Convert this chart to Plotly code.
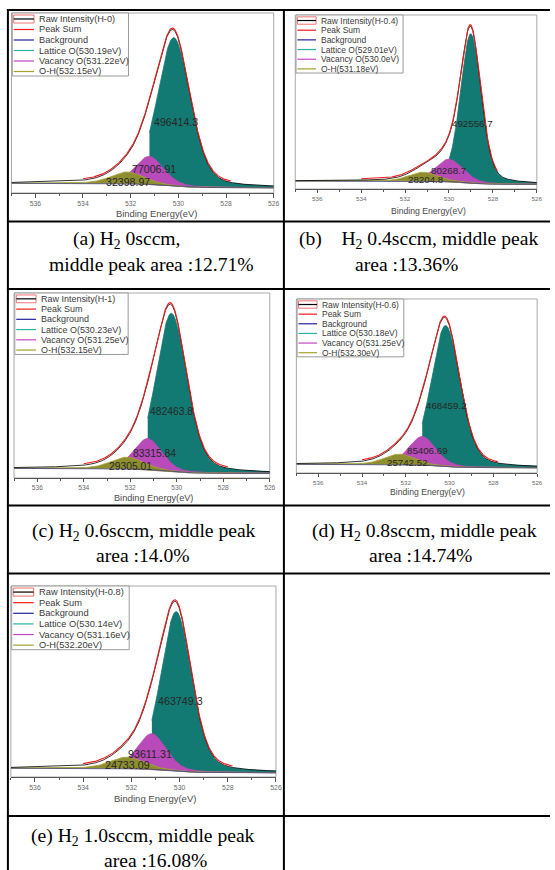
import numpy as np
import plotly.graph_objects as go

W, H = 555, 870

# ---------------- data ----------------
samples = ["H-0", "H-0.4", "H-1", "H-0.6", "H-0.8"]
lattice_center = [530.19, 529.01, 530.23, 530.18, 530.14]
vacancy_center = [531.22, 530.00, 531.25, 531.25, 531.16]
oh_center = [532.15, 531.18, 532.15, 532.30, 532.20]
lattice_center_txt = ["530.19", "529.01", "530.23", "530.18", "530.14"]
vacancy_center_txt = ["531.22", "530.0", "531.25", "531.25", "531.16"]
oh_center_txt = ["532.15", "531.18", "532.15", "532.30", "532.20"]
lattice_area = ["496414.3", "492556.7", "482463.8", "468459.2", "463749.3"]
vacancy_area = ["77006.91", "80268.7", "83315.84", "85406.69", "93611.31"]
oh_area = ["32398.97", "28204.8", "29305.01", "25742.52", "24733.09"]
# peak heights (relative intensity, % of panel height) and widths (FWHM, eV)
lattice_height = [82.4, 85.8, 85.4, 81.0, 83.4]
lattice_fwhm = [1.62, 1.10, 1.56, 1.56, 1.50]
vacancy_height = [15.5, 12.9, 16.7, 16.4, 18.6]
vacancy_fwhm = [1.40, 1.50, 1.40, 1.45, 1.40]
oh_height = [6.5, 5.2, 6.3, 6.0, 6.0]
oh_fwhm = [1.60, 1.50, 1.60, 1.60, 1.60]
bg_low = [2.9, 2.7, 2.5, 3.0, 2.25]    # background at 526 eV
bg_high = [5.4, 4.6, 5.2, 5.0, 4.6]    # background at 537 eV
x_ticks = [536, 534, 532, 530, 528, 526]
x_minor = [537, 535, 533, 531, 529, 527]

caption_line1 = ["(a) H<sub>2</sub> 0sccm,",
                 "(b)\u00a0\u00a0\u00a0\u00a0H<sub>2</sub> 0.4sccm, middle peak",
                 "(c) H<sub>2</sub> 0.6sccm, middle peak",
                 "(d) H<sub>2</sub> 0.8sccm, middle peak",
                 "(e) H<sub>2</sub> 1.0sccm, middle peak"]
caption_line2 = ["middle peak area :12.71%", "area :13.36%", "area :14.0%",
                 "area :14.74%", "area :16.08%"]

# ---------------- layout geometry (pixels) ----------------
frames = [(11.6, 13, 276.7, 193), (298.5, 15, 542.7, 189), (14.2, 293, 272.7, 478),
          (299.6, 299, 543, 473), (11.0, 586, 279, 777)]
title_pos = [(158, 213.3), (432.8, 210.7), (155, 498.3), (431.8, 492.3), (156.3, 798.3)]
lab_lat = [(530.08, 39.3), (528.94, 37.4), (530.22, 36.2), (530.14, 38.7), (529.98, 39.9)]
lab_vac = [(531.04, 13.2), (530.01, 10.9), (530.94, 13.4), (531.02, 12.8), (531.23, 12.0)]
lab_oh = [(532.10, 5.9), (531.05, 5.2), (531.97, 6.1), (531.91, 5.9), (532.15, 6.1)]
cap1_pos = [(127.9, 240.4), (423.3, 240.4), (145.5, 531.5), (428.9, 531.5), (145, 836.8)]
cap2_pos = [(153.1, 264.4), (411.2, 264.4), (144.8, 555.5), (425.4, 555.5), (157.7, 860)]

C_RAW, C_SUM, C_BG = "#000000", "#ee1c1c", "#22229a"
C_LAT, C_VAC, C_OH = "#2bb3a8", "#c445c4", "#a3a32c"
F_LAT, F_VAC, F_OH = "#127a72", "#b94ab9", "#8e8e30"
SANS = "Liberation Sans, Arial, sans-serif"
SERIF = "Liberation Serif, Times New Roman, serif"


def px(x):
    return x / W


def py(y):
    return 1 - y / H


def gl(E, c, h, w, m=0.3):
    d = (E - c) / w
    return h * ((1 - m) * np.exp(-4 * np.log(2) * d * d) + m / (1 + 4 * d * d))


E = np.linspace(537, 526, 881)
fig = go.Figure()
shapes, annots = [], []

for i in range(5):
    sfx = "" if i == 0 else str(i + 1)
    xa, ya = "x" + sfx, "y" + sfx
    L, T, R, B = frames[i]
    s = (R - L) / 11 / 24.1

    lat = gl(E, lattice_center[i], lattice_height[i], lattice_fwhm[i])
    vac = gl(E, vacancy_center[i], vacancy_height[i], vacancy_fwhm[i])
    oh = gl(E, oh_center[i], oh_height[i], oh_fwhm[i])
    peaks = lat + vac + oh
    cum = np.cumsum(peaks[::-1])[::-1]
    bg = bg_low[i] + (bg_high[i] - bg_low[i]) * cum / cum[0]
    total = bg + peaks

    def poly(comp, mask, fc, lc):
        xs = np.concatenate([E[mask], E[mask][::-1]])
        ys = np.concatenate([(bg + comp)[mask], bg[mask][::-1]])
        fig.add_trace(go.Scatter(x=xs, y=ys, mode="lines", fill="toself", fillcolor=fc,
                                 line=dict(color=lc, width=0.8), xaxis=xa, yaxis=ya,
                                 showlegend=False, hoverinfo="skip"))

    poly(lat, E <= vacancy_center[i], F_LAT, F_LAT)
    poly(vac, E <= oh_center[i], F_VAC, F_VAC)
    poly(oh, E <= 537, F_OH, "#a6a63a")
    fig.add_trace(go.Scatter(x=E, y=bg, mode="lines", line=dict(color=C_BG, width=0.6),
                             xaxis=xa, yaxis=ya, showlegend=False, hoverinfo="skip"))
    fig.add_trace(go.Scatter(x=E, y=total, mode="lines", line=dict(color=C_RAW, width=0.8),
                             xaxis=xa, yaxis=ya, showlegend=False, hoverinfo="skip"))
    m = (E <= 534.0) & (E >= 527.8)
    fig.add_trace(go.Scatter(x=E[m], y=total[m] + 0.8, mode="lines",
                             line=dict(color=C_SUM, width=1.1),
                             xaxis=xa, yaxis=ya, showlegend=False, hoverinfo="skip"))

    fig.update_layout(**{
        ("xaxis" + sfx): dict(domain=[px(L), px(R)], range=[537, 526], anchor=ya,
                              showline=True, linecolor="#555", linewidth=1,
                              ticks="outside", ticklen=3.5 * s, tickwidth=1, tickcolor="#555",
                              tickvals=x_ticks, ticktext=[str(t) for t in x_ticks],
                              tickfont=dict(family=SANS, size=6.8 * s, color="#6a6a6a"),
                              minor=dict(ticks="outside", ticklen=2 * s, tickvals=x_minor,
                                         tickcolor="#555", tickwidth=1),
                              showgrid=False, zeroline=False, fixedrange=True),
        ("yaxis" + sfx): dict(domain=[py(B), py(T)], range=[0, 100], anchor=xa,
                              showline=False, showticklabels=False, ticks="",
                              showgrid=False, zeroline=False, fixedrange=True),
    })

    # frame
    shapes.append(dict(type="rect", xref=xa + " domain", yref=ya + " domain", x0=0, x1=1, y0=0, y1=1,
                       line=dict(color="#a8a8a8", width=1), layer="below"))

    # legend
    lx0, ly0 = L + 0.8 * s, T
    lw, lh = 117.5 * s, 63 * s
    shapes.append(dict(type="rect", xref="paper", yref="paper", x0=px(lx0), x1=px(lx0 + lw),
                       y0=py(ly0), y1=py(ly0 + lh), line=dict(color="#9a9a9a", width=1),
                       fillcolor="white", layer="above"))
    names = ["Raw Intensity(%s)" % samples[i], "Peak Sum", "Background",
             "Lattice O(%seV)" % lattice_center_txt[i], "Vacancy O(%seV)" % vacancy_center_txt[i],
             "O-H(%seV)" % oh_center_txt[i]]
    cols = [C_RAW, C_SUM, C_BG, C_LAT, C_VAC, C_OH]
    for k in range(6):
        yc = ly0 + (6 + 10.5 * k) * s
        if k == 0:
            shapes.append(dict(type="rect", xref="paper", yref="paper", x0=px(lx0 + 1.5 * s),
                               x1=px(lx0 + 22 * s), y0=py(yc - 4 * s), y1=py(yc + 4 * s),
                               line=dict(color="#f07070", width=1), layer="above"))
        shapes.append(dict(type="line", xref="paper", yref="paper", x0=px(lx0 + 1.5 * s),
                           x1=px(lx0 + 22 * s), y0=py(yc), y1=py(yc),
                           line=dict(color=cols[k], width=1.2), layer="above"))
        annots.append(dict(xref="paper", yref="paper", x=px(lx0 + 25 * s), y=py(yc),
                           xanchor="left", yanchor="middle", text=names[k], showarrow=False,
                           font=dict(family=SANS, size=9.2 * s, color="#3a3a3a")))

    # area labels
    for (ex, ey), txt in zip([lab_lat[i], lab_vac[i], lab_oh[i]],
                             [lattice_area[i], vacancy_area[i], oh_area[i]]):
        annots.append(dict(xref=xa, yref=ya, x=ex, y=ey, text=txt, showarrow=False,
                           xanchor="center", yanchor="middle",
                           font=dict(family=SANS, size=10.6 * s, color="#262626")))
    # axis title
    tx, ty = title_pos[i]
    annots.append(dict(xref="paper", yref="paper", x=px(tx), y=py(ty), text="Binding Energy(eV)",
                       showarrow=False, xanchor="center", yanchor="middle",
                       font=dict(family=SANS, size=9.4 * s, color="#4a4a4a")))
    # captions
    for (cx, cy), txt in zip([cap1_pos[i], cap2_pos[i]], [caption_line1[i], caption_line2[i]]):
        annots.append(dict(xref="paper", yref="paper", x=px(cx), y=py(cy), text=txt,
                           showarrow=False, xanchor="center", yanchor="middle",
                           font=dict(family=SERIF, size=19.6, color="#000")))

# table grid lines
for yy in [10, 221.5, 289, 505.5, 573.5, 816]:
    shapes.append(dict(type="line", xref="paper", yref="paper", x0=px(7), x1=px(556),
                       y0=py(yy), y1=py(yy), line=dict(color="black", width=2), layer="above"))
for xx in [8, 287]:
    shapes.append(dict(type="line", xref="paper", yref="paper", x0=px(xx), x1=px(xx),
                       y0=py(9), y1=py(871), line=dict(color="black", width=2), layer="above"))

fig.update_layout(width=W, height=H, margin=dict(l=0, r=0, t=0, b=0),
                  paper_bgcolor="white", plot_bgcolor="white", showlegend=False,
                  shapes=shapes, annotations=annots)
fig.write_html("out.html")
